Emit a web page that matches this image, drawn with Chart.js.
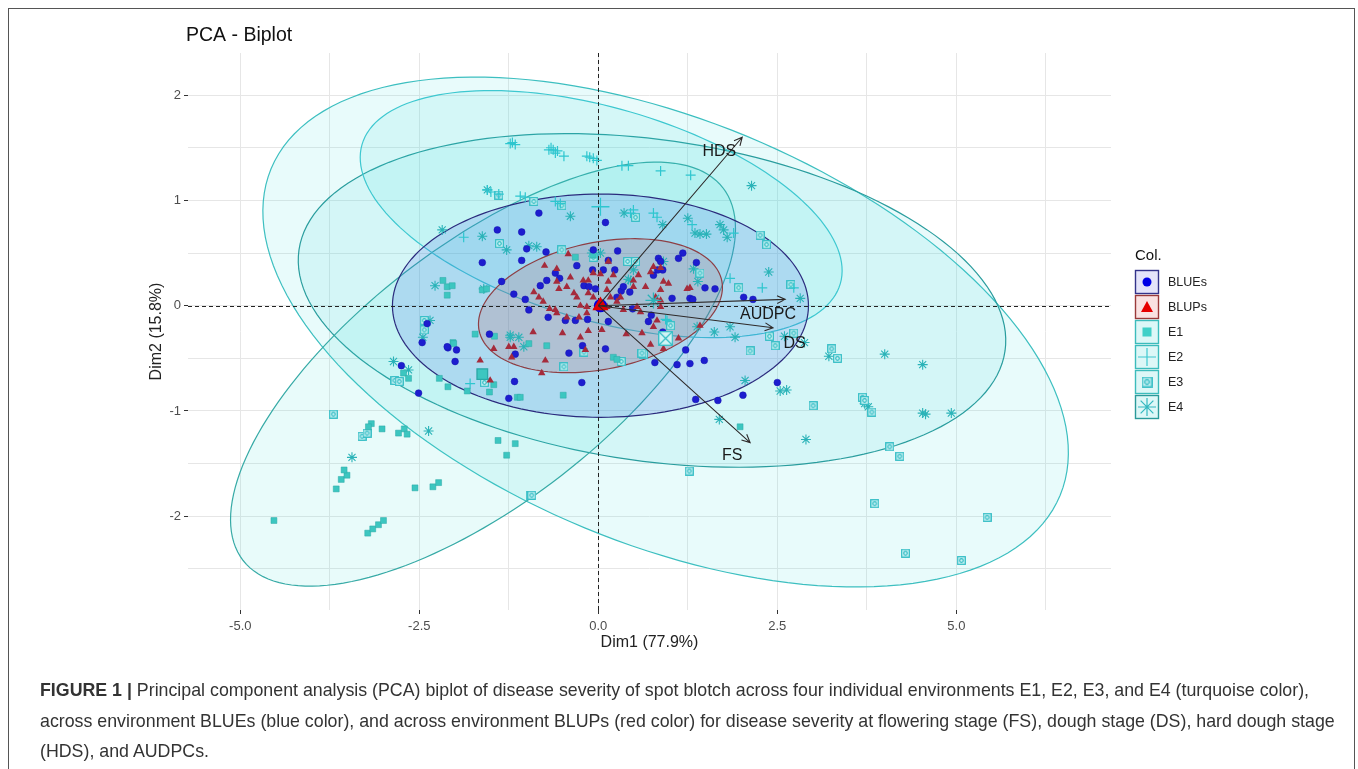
<!DOCTYPE html>
<html>
<head>
<meta charset="utf-8">
<script src="https://cdn.jsdelivr.net/npm/chart.js@4/dist/chart.umd.min.js"></script>
<style>
  html, body { margin: 0; padding: 0; background: #fff; }
  #wrap { position: relative; width: 1358px; height: 769px; overflow: hidden; }
  #frame { position: absolute; left: 8px; top: 8px; width: 1347px; height: 790px; border: 1.5px solid #555; box-sizing: border-box; }
  #chart { position: absolute; left: 0; top: 0; }
  #caption { position: absolute; left: 40px; top: 675px; font-family: "Liberation Sans", Arial, sans-serif; font-size: 17.8px; line-height: 30.5px; color: #333; white-space: nowrap; }
</style>
</head>
<body>
<div id="wrap">
  <div id="frame"></div>
  <canvas id="chart" width="1358" height="769"></canvas>
  <div id="caption"><b>FIGURE 1 |</b> Principal component analysis (PCA) biplot of disease severity of spot blotch across four individual environments E1, E2, E3, and E4 (turquoise color),<br>across environment BLUEs (blue color), and across environment BLUPs (red color) for disease severity at flowering stage (FS), dough stage (DS), hard dough stage<br>(HDS), and AUDPCs.</div>
</div>
<script>
// axis setup
const xLimits = [-5.73, 7.16];
const yLimits = [-2.89, 2.40];
const xGridVals = [-5, -3.75, -2.5, -1.25, 0, 1.25, 2.5, 3.75, 5, 6.25];
const yGridVals = [-2.5, -2, -1.5, -1, -0.5, 0, 0.5, 1, 1.5, 2];
const xTickVals = [-5, -2.5, 0, 2.5, 5];
const xTickLabels = ['-5.0', '-2.5', '0.0', '2.5', '5.0'];
const yTickVals = [-2, -1, 0, 1, 2];
const yTickLabels = ['-2', '-1', '0', '1', '2'];

// individuals (Dim1, Dim2)
const bluesPts = [[-0.83,0.88],[0.10,0.79],[-1.41,0.72],[-1.07,0.70],[-1.00,0.54],[-0.73,0.51],[-0.07,0.53],[0.27,0.52],[1.18,0.50],[0.84,0.45],[0.87,0.42],[0.90,0.34],[1.12,0.45],[1.37,0.41],[-1.07,0.43],[-1.62,0.41],[-0.30,0.38],[0.14,0.43],[0.23,0.34],[0.07,0.34],[-0.08,0.34],[-0.60,0.31],[-0.54,0.26],[-0.72,0.24],[-1.35,0.23],[-0.81,0.19],[0.32,0.14],[0.26,0.08],[0.48,-0.03],[0.83,0.34],[0.77,0.29],[1.49,0.17],[1.63,0.16],[1.28,0.07],[1.32,0.06],[1.03,0.07],[2.03,0.08],[2.16,0.06],[-1.18,0.11],[-1.02,0.06],[-0.97,-0.04],[-0.70,-0.11],[-0.46,-0.14],[-0.32,-0.14],[-0.15,-0.13],[-0.22,-0.38],[0.14,-0.15],[-1.52,-0.27],[-2.10,-0.40],[-1.98,-0.42],[-2.00,-0.53],[-1.16,-0.46],[-0.41,-0.45],[0.10,-0.41],[0.74,-0.09],[0.70,-0.15],[0.90,-0.25],[1.22,-0.42],[1.10,-0.56],[1.28,-0.55],[1.48,-0.52],[0.79,-0.54],[-1.17,-0.72],[-0.23,-0.73],[-1.25,-0.88],[1.36,-0.89],[1.67,-0.90],[2.02,-0.85],[2.50,-0.73],[-2.75,-0.57],[-2.51,-0.83],[-2.46,-0.35],[-2.11,-0.39],[-0.20,0.19],[-0.04,0.16],[0.35,0.18],[0.44,0.13],[-0.13,0.18],[-2.39,-0.17]];
const blupsPts = [[-0.42,0.49],[-0.75,0.38],[-0.58,0.35],[-0.39,0.27],[-0.58,0.23],[-0.55,0.16],[-0.44,0.18],[-0.34,0.12],[-0.30,0.08],[-0.21,0.24],[-0.14,0.24],[-0.07,0.31],[0.03,0.30],[0.14,0.42],[0.21,0.29],[0.14,0.23],[0.12,0.15],[0.17,0.08],[-0.14,0.12],[-0.07,0.08],[-0.25,0.00],[-0.16,-0.01],[-0.02,-0.01],[0.12,-0.01],[-0.68,-0.03],[-0.60,-0.04],[-0.58,-0.07],[-0.44,-0.11],[-0.27,-0.11],[-0.16,-0.07],[-0.90,0.13],[-0.83,0.08],[-0.77,0.04],[-0.91,-0.25],[-0.50,-0.26],[-0.25,-0.30],[-0.14,-0.24],[0.05,-0.23],[0.39,-0.27],[0.61,-0.26],[0.73,-0.37],[0.91,-0.41],[1.12,-0.31],[1.42,-0.19],[0.77,-0.20],[0.82,-0.14],[0.87,-0.01],[0.59,-0.06],[0.49,0.24],[0.56,0.29],[0.73,0.32],[0.77,0.37],[0.87,0.36],[0.49,0.18],[0.66,0.18],[0.80,0.08],[0.87,0.05],[0.91,0.23],[0.98,0.21],[1.24,0.16],[1.28,0.17],[0.54,-0.01],[0.35,-0.04],[0.31,0.08],[0.26,0.04],[-1.25,-0.39],[-1.18,-0.39],[-1.21,-0.49],[-1.46,-0.41],[-1.65,-0.52],[-0.74,-0.52],[-0.79,-0.64],[-0.18,-0.42],[-1.51,-0.71],[0.87,0.15]];
const e1Pts = [[-4.53,-2.04],[-3.22,-2.16],[-3.15,-2.12],[-3.07,-2.08],[-3.00,-2.04],[-3.66,-1.74],[-3.59,-1.65],[-3.51,-1.61],[-3.55,-1.56],[-2.56,-1.73],[-2.31,-1.72],[-2.23,-1.68],[-3.17,-1.12],[-3.21,-1.15],[-3.02,-1.17],[-2.79,-1.21],[-2.71,-1.17],[-2.67,-1.22],[-1.40,-1.28],[-1.16,-1.31],[-1.28,-1.42],[-2.72,-0.64],[-2.65,-0.69],[-2.22,-0.69],[-2.10,-0.77],[-1.83,-0.81],[-1.52,-0.82],[-1.46,-0.75],[-1.13,-0.87],[-0.49,-0.85],[-1.72,-0.27],[-2.03,-0.35],[-0.72,-0.38],[-0.97,-0.36],[0.21,-0.49],[0.26,-0.51],[-2.17,0.24],[-2.11,0.18],[-2.04,0.19],[-2.11,0.10],[-1.62,0.15],[-1.56,0.16],[-1.45,-0.29],[-2.02,-0.36],[-1.09,-0.87],[-0.32,0.46],[-0.07,0.48],[1.98,-1.15]];
const e2Pts = [[-1.23,1.54],[-1.16,1.53],[-1.20,1.55],[-0.69,1.48],[-0.66,1.50],[-0.63,1.48],[-0.60,1.45],[-0.57,1.47],[-0.48,1.42],[-0.16,1.42],[-0.12,1.41],[-0.07,1.40],[-0.02,1.38],[-1.55,1.10],[-1.50,1.08],[-1.39,1.06],[-1.09,1.04],[-1.02,1.03],[-0.60,0.99],[-0.53,0.97],[-1.88,0.65],[0.33,1.33],[0.42,1.33],[0.87,1.28],[1.29,1.24],[0.49,0.91],[0.45,0.88],[0.77,0.88],[0.82,0.84],[1.31,0.77],[1.89,0.69],[1.84,0.26],[2.29,0.17],[2.73,0.17],[-1.79,-0.74],[0.94,-0.13],[0.96,-0.14]];
const e3Pts = [[-3.70,-1.03],[-3.30,-1.24],[-3.23,-1.21],[-2.84,-0.71],[-2.78,-0.72],[-2.43,-0.14],[-2.43,-0.23],[-1.59,-0.73],[-0.95,-1.80],[-0.93,-1.80],[-0.48,-0.58],[1.27,-1.57],[3.86,-1.88],[4.29,-2.35],[5.07,-2.42],[5.43,-2.01],[4.07,-1.34],[4.21,-1.43],[3.00,-0.95],[3.69,-0.87],[3.72,-0.90],[3.82,-1.01],[3.26,-0.41],[3.34,-0.50],[2.12,-0.43],[2.47,-0.38],[2.73,-0.26],[2.39,-0.29],[1.01,-0.19],[0.63,-0.46],[0.32,-0.53],[0.52,0.84],[2.26,0.67],[2.35,0.58],[1.42,0.31],[1.96,0.17],[2.69,0.20],[-1.39,1.05],[-0.51,0.95],[-0.90,0.99],[-1.38,0.59],[-0.51,0.53],[-0.07,0.46],[0.41,0.42],[0.52,0.42],[0.61,-0.45],[-0.20,-0.44]];
const e4Pts = [[-2.86,-0.53],[-2.65,-0.61],[-3.44,-1.44],[-2.37,-1.19],[-2.35,-0.14],[-2.45,-0.30],[-1.23,-0.28],[-1.11,-0.30],[-1.04,-0.39],[2.05,-0.71],[1.69,-1.08],[2.90,-1.27],[2.54,-0.81],[2.63,-0.80],[3.22,-0.48],[4.00,-0.46],[4.53,-0.56],[3.72,-0.93],[3.77,-0.96],[4.53,-1.02],[4.57,-1.03],[4.93,-1.02],[1.62,-0.25],[1.91,-0.30],[2.60,-0.29],[2.88,-0.35],[1.84,-0.20],[1.38,-0.20],[2.14,1.14],[1.25,0.83],[1.35,0.69],[1.42,0.68],[1.51,0.68],[1.75,0.72],[1.80,0.65],[1.70,0.77],[0.90,0.77],[0.91,0.42],[0.36,0.88],[2.38,0.32],[2.82,0.07],[0.45,0.24],[1.33,0.35],[1.39,0.23],[-1.55,1.10],[-0.39,0.85],[-2.18,0.72],[-1.62,0.66],[-1.28,0.53],[-0.97,0.57],[-0.86,0.56],[-2.28,0.19],[-1.60,0.16],[-0.09,0.50],[0.03,0.50],[0.49,0.34],[0.42,0.25],[-1.23,-0.30]];

// group means and concentration ellipses (centre + two conjugate half axes)
const groupNames = ['BLUEs', 'BLUPs', 'E1', 'E2', 'E3', 'E4'];
const centroidX = [0.03, 0.03, -1.62, 0.03, 0.94, 0.77];
const centroidY = [0.00, 0.00, -0.65, 0.94, -0.31, 0.05];
const ellCx = [0.03, 0.03, -1.61, 0.04, 0.94, 0.75];
const ellCy = [0.00, 0.00, -0.65, 0.87, -0.25, 0.05];
const ellUx = [2.905, 1.694, 3.35, 3.34, 5.51, 4.93];
const ellUy = [0.00, 0.238, 1.77, -0.66, -1.55, -0.48];
const ellVx = [0.00, 0.180, 1.10, -0.41, -1.13, -0.32];
const ellVy = [1.06, -0.590, -0.96, -0.97, -1.86, -1.51];

// variables (arrows)
const varNames = ['HDS', 'AUDPC', 'DS', 'FS'];
const varX = [2.01, 2.61, 2.44, 2.12];
const varY = [1.60, 0.06, -0.21, -1.30];
const varLabelX = [1.69, 2.37, 2.74, 1.87];
const varLabelY = [1.46, -0.08, -0.36, -1.42];

const font = '"Liberation Sans", Arial, sans-serif';
const strokeCols = ['#2b2b7d', '#8e3f45', '#36aaa6', '#3ec8d0', '#3dbfc0', '#2a9d9e'];
const fillCols = ['rgba(60,90,230,0.16)', 'rgba(190,60,60,0.16)', 'rgba(64,224,214,0.12)',
                  'rgba(64,224,224,0.12)', 'rgba(64,224,224,0.12)', 'rgba(64,214,224,0.12)'];
const drawOrder = [4, 5, 2, 3, 0, 1];

function makeBoxDot(size, withCross) {
  const c = document.createElement('canvas');
  c.width = size; c.height = size;
  const g = c.getContext('2d');
  g.fillStyle = '#d2f4f5';
  g.fillRect(0.5, 0.5, size - 1, size - 1);
  g.strokeStyle = '#2fbcc4';
  g.lineWidth = 1.2;
  g.strokeRect(0.7, 0.7, size - 1.4, size - 1.4);
  if (withCross) {
    g.beginPath();
    g.moveTo(1, 1); g.lineTo(size - 1, size - 1);
    g.moveTo(size - 1, 1); g.lineTo(1, size - 1);
    g.stroke();
  } else {
    g.beginPath();
    g.arc(size / 2, size / 2, size / 5, 0, Math.PI * 2);
    g.stroke();
  }
  return c;
}
const boxDot = makeBoxDot(9, false);
const boxCross = makeBoxDot(15, true);

function pts(a) { return a.map(p => ({ x: p[0], y: p[1] })); }

function drawGlyph(ctx, kind, x, y) {
  ctx.save();
  if (kind === 0) {
    ctx.fillStyle = '#0000e6';
    ctx.beginPath(); ctx.arc(x, y, 4.5, 0, Math.PI * 2); ctx.fill();
  } else if (kind === 1) {
    ctx.fillStyle = '#e60000';
    ctx.beginPath(); ctx.moveTo(x, y - 6); ctx.lineTo(x + 6, y + 5); ctx.lineTo(x - 6, y + 5); ctx.closePath(); ctx.fill();
  } else if (kind === 2) {
    ctx.fillStyle = '#40d0c8';
    ctx.fillRect(x - 4.5, y - 4.5, 9, 9);
  } else if (kind === 3) {
    ctx.strokeStyle = '#40c8d0'; ctx.lineWidth = 1.2;
    ctx.beginPath(); ctx.moveTo(x - 9, y); ctx.lineTo(x + 9, y); ctx.moveTo(x, y - 9); ctx.lineTo(x, y + 9); ctx.stroke();
  } else if (kind === 4) {
    ctx.drawImage(boxDot, x - 5.5, y - 5.5, 11, 11);
  } else {
    ctx.strokeStyle = '#33b8c0'; ctx.lineWidth = 1.2;
    ctx.beginPath();
    for (let k = 0; k < 4; k++) {
      const a = k * Math.PI / 4;
      ctx.moveTo(x - 9 * Math.cos(a), y - 9 * Math.sin(a));
      ctx.lineTo(x + 9 * Math.cos(a), y + 9 * Math.sin(a));
    }
    ctx.stroke();
  }
  ctx.restore();
}

const biplotPlugin = {
  id: 'biplot',
  beforeDatasetsDraw(chart) {
    const { ctx, chartArea: a, scales: { x, y } } = chart;
    ctx.save();
    ctx.beginPath(); ctx.rect(a.left, a.top, a.right - a.left, a.bottom - a.top); ctx.clip();
    drawOrder.forEach(i => {
      ctx.beginPath();
      for (let k = 0; k <= 160; k++) {
        const t = k / 160 * Math.PI * 2;
        const dx = ellCx[i] + ellUx[i] * Math.cos(t) + ellVx[i] * Math.sin(t);
        const dy = ellCy[i] + ellUy[i] * Math.cos(t) + ellVy[i] * Math.sin(t);
        const px = x.getPixelForValue(dx), py = y.getPixelForValue(dy);
        if (k === 0) ctx.moveTo(px, py); else ctx.lineTo(px, py);
      }
      ctx.closePath();
      ctx.fillStyle = fillCols[i];
      ctx.fill();
      ctx.strokeStyle = strokeCols[i];
      ctx.lineWidth = 1.2;
      ctx.stroke();
    });
    // dashed reference lines
    ctx.setLineDash([4, 3]);
    ctx.strokeStyle = '#222';
    ctx.lineWidth = 1;
    const x0 = Math.round(x.getPixelForValue(0)) + 0.5, y0 = Math.round(y.getPixelForValue(0)) + 0.5;
    ctx.beginPath();
    ctx.moveTo(x0, a.top); ctx.lineTo(x0, a.bottom);
    ctx.moveTo(a.left, y0); ctx.lineTo(a.right, y0);
    ctx.stroke();
    ctx.restore();
  },
  afterDatasetsDraw(chart) {
    const { ctx, scales: { x, y } } = chart;
    const ox = x.getPixelForValue(0), oy = y.getPixelForValue(0);
    ctx.save();
    ctx.strokeStyle = '#2e2a2a';
    ctx.lineWidth = 1.1;
    varNames.forEach((n, i) => {
      const ex = x.getPixelForValue(varX[i]), ey = y.getPixelForValue(varY[i]);
      const ang = Math.atan2(ey - oy, ex - ox);
      ctx.beginPath();
      ctx.moveTo(ox, oy); ctx.lineTo(ex, ey);
      ctx.moveTo(ex - 9 * Math.cos(ang - 0.45), ey - 9 * Math.sin(ang - 0.45));
      ctx.lineTo(ex, ey);
      ctx.lineTo(ex - 9 * Math.cos(ang + 0.45), ey - 9 * Math.sin(ang + 0.45));
      ctx.stroke();
      ctx.fillStyle = '#1a1a1a';
      ctx.font = '16px ' + font;
      ctx.textAlign = 'center';
      ctx.textBaseline = 'middle';
      ctx.fillText(n, x.getPixelForValue(varLabelX[i]), y.getPixelForValue(varLabelY[i]));
    });
    // plot title
    ctx.textAlign = 'left';
    ctx.fillStyle = '#111';
    ctx.font = '19.5px ' + font;
    ctx.fillText('PCA - Biplot', 186, 36);
    // legend
    ctx.font = '15px ' + font;
    ctx.fillText('Col.', 1135, 256);
    const keyFill = ['#e4e4fa', '#fae2e2', '#ddf7f7', '#ddf7f7', '#ddf7f7', '#ddf7f7'];
    const keyLine = ['#33338a', '#9a3a3a', '#3cbcbc', '#3cbcbc', '#3cbcbc', '#2a9a9a'];
    groupNames.forEach((g, i) => {
      const top = 270 + i * 25;
      ctx.fillStyle = keyFill[i];
      ctx.fillRect(1135, top, 24, 24);
      ctx.strokeStyle = keyLine[i];
      ctx.lineWidth = 1.4;
      ctx.strokeRect(1135.5, top + 0.5, 23, 23);
      drawGlyph(ctx, i, 1147, top + 12);
      ctx.fillStyle = '#222';
      ctx.font = '12.5px ' + font;
      ctx.fillText(g, 1168, top + 13);
    });
    ctx.restore();
  }
};

const ds = [
  { label: 'BLUPs', data: pts(blupsPts), pointStyle: 'triangle', pointRadius: 4.3, backgroundColor: '#a52b3b', borderColor: '#a52b3b', borderWidth: 0, order: 1 },
  { label: 'BLUEs', data: pts(bluesPts), pointStyle: 'circle', pointRadius: 3.4, backgroundColor: '#1d1dcf', borderColor: '#1515b0', borderWidth: 0.5, order: 2 },
  { label: 'E1', data: pts(e1Pts), pointStyle: 'rect', pointRadius: 4.2, backgroundColor: '#3cc6c0', borderColor: '#2aa8a6', borderWidth: 0.5, order: 3 },
  { label: 'E2', data: pts(e2Pts), pointStyle: 'cross', pointRadius: 5, backgroundColor: '#2ec6cf', borderColor: '#2ec6cf', borderWidth: 1.2, order: 4 },
  { label: 'E3', data: pts(e3Pts), pointStyle: boxDot, pointRadius: 5, order: 5 },
  { label: 'E4', data: pts(e4Pts), pointStyle: 'star', pointRadius: 5, backgroundColor: '#2ab3b8', borderColor: '#2ab3b8', borderWidth: 1.1, order: 6 },
  { label: 'means', data: groupNames.map((g, i) => ({ x: centroidX[i], y: centroidY[i] })),
    pointStyle: ['circle', 'triangle', 'rect', 'cross', boxCross, 'star'],
    pointRadius: [6, 8, 7.5, 9, 8, 8],
    backgroundColor: ['#0000e0', '#e00000', '#3cc6c0', '#2ec6cf', '#2fbcc4', '#2ab3b8'],
    borderColor: ['#0000e0', '#e00000', '#2aa8a6', '#2ec6cf', '#2fbcc4', '#2ab3b8'],
    borderWidth: 1.3, order: 0 }
];

const tickFont = { family: font, size: 13 };
new Chart(document.getElementById('chart'), {
  type: 'scatter',
  data: { datasets: ds },
  options: {
    responsive: false,
    devicePixelRatio: 1,
    animation: false,
    events: [],
    layout: { padding: { left: 147, top: 53, right: 247, bottom: 117 } },
    plugins: { legend: { display: false }, tooltip: { enabled: false } },
    scales: {
      x: {
        type: 'linear', min: xLimits[0], max: xLimits[1],
        afterFit: s => { s.height = 42; },
        afterBuildTicks: s => { s.ticks = xGridVals.map(v => ({ value: v })); },
        ticks: {
          autoSkip: false, maxRotation: 0, padding: 5, color: '#4d4d4d', font: tickFont,
          callback: v => { const i = xTickVals.indexOf(v); return i >= 0 ? xTickLabels[i] : ''; }
        },
        grid: {
          color: '#e6e6e6', lineWidth: 1, tickLength: 4,
          tickColor: c => (c.tick && xTickVals.includes(c.tick.value)) ? '#333' : 'rgba(0,0,0,0)'
        },
        border: { display: false },
        title: { display: true, text: 'Dim1 (77.9%)', color: '#222', font: { family: font, size: 16 }, padding: 0 }
      },
      y: {
        type: 'linear', min: yLimits[0], max: yLimits[1],
        afterFit: s => { s.width = 41; },
        afterBuildTicks: s => { s.ticks = yGridVals.map(v => ({ value: v })); },
        ticks: {
          autoSkip: false, padding: 3, color: '#4d4d4d', font: tickFont,
          callback: v => { const i = yTickVals.indexOf(v); return i >= 0 ? yTickLabels[i] : ''; }
        },
        grid: {
          color: '#e6e6e6', lineWidth: 1, tickLength: 4,
          tickColor: c => (c.tick && yTickVals.includes(c.tick.value)) ? '#333' : 'rgba(0,0,0,0)'
        },
        border: { display: false },
        title: { display: true, text: 'Dim2 (15.8%)', color: '#222', font: { family: font, size: 16 }, padding: 0 }
      }
    }
  },
  plugins: [biplotPlugin]
});
</script>
</body>
</html>
